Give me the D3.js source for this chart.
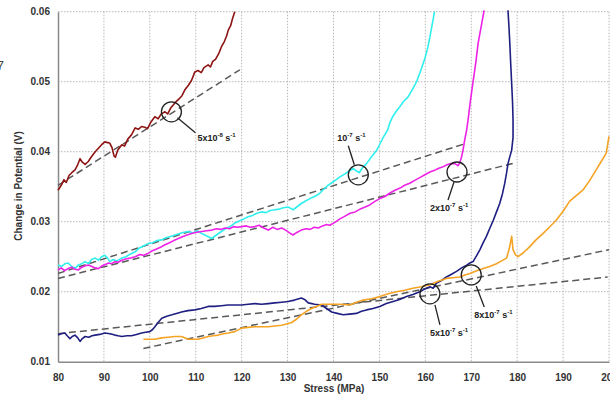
<!DOCTYPE html>
<html><head><meta charset="utf-8">
<script src="https://cdn.jsdelivr.net/npm/d3@7"></script>
<style>
html,body{margin:0;padding:0;background:#fff;}
svg{display:block;font-family:"Liberation Sans",Arial,sans-serif;}
</style></head><body>
<svg id="chart" width="610" height="398"></svg>
<script>
// ---------- DATA ----------
const xTicks = [80,90,100,110,120,130,140,150,160,170,180,190,200];
const yTicks = [0.01,0.02,0.03,0.04,0.05,0.06];
const xTitle = "Stress (MPa)";
const yTitle = "Change in Potential (V)";

const rate5e8 = [[80,.0345],[80.7,.0352],[81.3,.0360],[81.8,.0356],[82.4,.0366],[83,.0370],[83.7,.0374],[84.2,.0380],[84.8,.0390],[85.3,.0385],[85.9,.0382],[86.6,.0386],[87.2,.0392],[88.1,.0400],[88.8,.0405],[89.5,.0410],[90.2,.0414],[90.8,.0413],[91.3,.0412],[91.8,.0405],[92.2,.0394],[92.5,.0392],[93,.0402],[93.9,.0410],[94.5,.0408],[95.2,.0418],[96,.0424],[96.8,.0434],[97.5,.0432],[98.2,.0436],[98.9,.0435],[99.5,.0433],[100.2,.0442],[101.1,.0450],[101.8,.0447],[102.5,.0454],[103.3,.0457],[103.9,.0454],[104.5,.0462],[105.5,.0470],[106.3,.0475],[107,.0480],[107.6,.0488],[108.4,.0495],[109.1,.0502],[109.8,.0514],[110.5,.0516],[111.2,.0513],[111.8,.0520],[112.7,.0524],[113.2,.0521],[113.7,.0529],[114.3,.0532],[115,.0540],[115.6,.0550],[116.2,.0557],[116.7,.0565],[117.1,.0574],[117.6,.0580],[118,.0590],[118.5,.0600]];
const rate1e7 = [[80,.0238],[80.8,.0236],[81.5,.0240],[82.2,.0241],[83,.0236],[83.7,.0233],[84.4,.0238],[85.2,.0240],[85.9,.0243],[86.6,.0240],[87.3,.0246],[88.1,.0248],[88.8,.0245],[89.5,.0250],[90.2,.0252],[90.8,.0248],[91.3,.0243],[92,.0246],[92.8,.0244],[93.9,.0248],[94.8,.0250],[95.8,.0254],[96.8,.0257],[97.6,.0262],[98.5,.0265],[99.7,.0269],[100.6,.0270],[101.5,.0273],[102.6,.0274],[103.5,.0277],[104.5,.0279],[105.5,.0281],[106.5,.0283],[107.4,.0285],[108.4,.0286],[109.4,.0284],[110.3,.0287],[111.3,.0283],[112.3,.0280],[113.5,.0276],[114.5,.0281],[115.6,.0286],[116.5,.0290],[117.5,.0293],[118.5,.0298],[119.5,.0301],[120.5,.0304],[121.4,.0307],[122.4,.0309],[123.3,.0312],[124.3,.0314],[125.3,.0313],[126.2,.0316],[127.2,.0317],[128.2,.0318],[129.1,.0320],[130.1,.0321],[130.7,.0319],[131.2,.0317],[132,.0321],[133,.0326],[134,.0330],[134.9,.0333],[135.9,.0336],[136.9,.0340],[137.8,.0346],[138.8,.0352],[139.7,.0356],[140.6,.0360],[141.4,.0364],[142.4,.0368],[143.3,.0372],[144.3,.0376],[145.1,.0372],[145.6,.0370],[146.3,.0377],[147.2,.0383],[148.2,.0392],[149.4,.0402],[150.1,.0411],[150.8,.0420],[151.8,.0431],[152.3,.0442],[152.9,.0450],[153.6,.0457],[154.4,.0464],[155.3,.0472],[156.2,.0478],[157.2,.0489],[158.1,.0500],[159,.0516],[159.9,.0533],[160.5,.0548],[161,.0564],[161.5,.0582],[162,.0600]];
const rate2e7 = [[80,.0231],[80.7,.0234],[81.4,.0230],[82.2,.0233],[83,.0235],[83.7,.0232],[84.4,.0231],[85.2,.0235],[85.9,.0237],[86.6,.0238],[87.4,.0236],[88.1,.0234],[88.8,.0233],[89.6,.0237],[90.3,.0239],[91,.0241],[91.7,.0240],[92.4,.0243],[93.1,.0242],[93.9,.0245],[94.9,.0247],[95.8,.0248],[96.8,.0250],[97.8,.0253],[98.7,.0252],[99.7,.0255],[100.4,.0258],[101.1,.0260],[102.2,.0263],[103.3,.0267],[104.3,.0270],[105.2,.0273],[106.2,.0276],[107.2,.0279],[108.1,.0281],[109.1,.0283],[110.2,.0285],[111.3,.0286],[112.4,.0287],[113.5,.0288],[114.5,.0290],[115.4,.0289],[116.4,.0291],[117.4,.0290],[118.2,.0293],[119.1,.0292],[120,.0293],[121,.0294],[121.9,.0292],[122.9,.0293],[123.8,.0295],[124.8,.0291],[125.8,.0288],[126.8,.0292],[127.7,.0289],[128.7,.0291],[129.6,.0288],[130.4,.0284],[131.2,.0281],[132.1,.0285],[133,.0288],[134,.0290],[134.9,.0289],[135.8,.0292],[136.7,.0291],[137.6,.0294],[138.5,.0296],[139.2,.0295],[140.3,.0299],[141.4,.0304],[142.5,.0308],[143.6,.0312],[144.7,.0314],[145.8,.0318],[146.9,.0321],[147.9,.0324],[149,.0329],[150.1,.0333],[151.2,.0336],[152.3,.0341],[153.4,.0345],[154.5,.0348],[155.5,.0352],[156.6,.0355],[157.7,.0359],[158.8,.0363],[159.9,.0367],[161,.0371],[161.9,.0373],[162.8,.0376],[163.7,.0378],[164.6,.0381],[165.5,.0383],[166.4,.0383],[167.1,.0380],[167.5,.0384],[167.9,.0393],[168.2,.0402],[168.6,.0418],[169,.0431],[169.3,.0445],[169.8,.0472],[170.4,.0500],[171,.0528],[171.5,.0555],[172.2,.0580],[172.8,.0602]];
const rate5e7 = [[80,.0138],[80.7,.0140],[81.5,.0141],[82,.0137],[82.6,.0133],[83.1,.0136],[83.7,.0138],[84.3,.0134],[84.8,.0129],[85.3,.0133],[85.9,.0136],[86.7,.0135],[87.4,.0137],[88.1,.0138],[89.1,.0139],[90.2,.0141],[91.3,.0140],[92.4,.0138],[93.1,.0137],[93.9,.0136],[95,.0137],[96,.0137],[97.1,.0139],[98.2,.0141],[99.1,.0142],[100,.0143],[100.6,.0146],[101.1,.0150],[101.8,.0156],[102.6,.0162],[103.7,.0165],[104.8,.0167],[105.8,.0169],[106.9,.0171],[108.3,.0173],[109.8,.0174],[111.2,.0176],[112.7,.0179],[114.1,.0179],[115.6,.0180],[117,.0181],[118.5,.0181],[120,.0181],[121.4,.0182],[122.9,.0183],[124.3,.0182],[125.8,.0183],[127.2,.0184],[128.7,.0185],[130.1,.0186],[131.5,.0188],[133,.0191],[133.7,.0189],[134.5,.0184],[135.9,.0182],[137.4,.0181],[138.5,.0176],[139.6,.0171],[140.8,.0169],[142.1,.0167],[143.5,.0168],[145,.0169],[146.1,.0172],[147.2,.0174],[148.6,.0176],[150.1,.0179],[151.5,.0183],[153,.0186],[154.4,.0189],[155.9,.0193],[157.3,.0196],[158.8,.0200],[159.9,.0204],[161,.0207],[161.7,.0205],[162.4,.0212],[163.5,.0216],[164.6,.0221],[165.7,.0225],[166.8,.0229],[167.9,.0234],[169,.0238],[169.7,.0241],[170.4,.0243],[171.2,.0252],[171.9,.0260],[172.6,.0270],[173.3,.0279],[174,.0290],[174.8,.0302],[175.5,.0314],[176.2,.0326],[176.8,.0340],[177.3,.0355],[177.7,.0370],[178,.0383],[178.4,.0393],[178.8,.0402],[179.1,.0420],[179.1,.0445],[179,.0470],[178.8,.0498],[178.6,.0525],[178.4,.0555],[178.2,.0580],[178,.0602]];
const rate8e7 = [[98.6,.0132],[99.8,.0132],[101.1,.0132],[102.5,.0134],[104,.0135],[105.4,.0136],[106.9,.0136],[107.7,.0134],[108.4,.0132],[109.4,.0132],[110.5,.0132],[111.6,.0134],[112.7,.0136],[113.8,.0137],[114.9,.0138],[116,.0140],[117.1,.0141],[118.5,.0143],[120,.0148],[121.4,.0149],[122.9,.0150],[124.3,.0150],[125.8,.0150],[127.2,.0151],[128.7,.0152],[129.8,.0154],[130.9,.0156],[132,.0161],[133,.0167],[134.1,.0172],[135.2,.0176],[136.3,.0179],[137.4,.0182],[138.5,.0182],[139.6,.0182],[141.4,.0182],[143.6,.0181],[145,.0185],[146.5,.0188],[148.3,.0190],[150.1,.0193],[151.9,.0197],[153.7,.0200],[155.5,.0202],[157.3,.0205],[159.1,.0207],[161,.0210],[162.8,.0215],[164.6,.0219],[166,.0220],[167.5,.0221],[168.6,.0224],[169.7,.0226],[171.2,.0230],[172.6,.0233],[174,.0236],[175.5,.0240],[176.6,.0244],[177.7,.0248],[178.3,.0262],[178.8,.0279],[179.1,.0260],[179.6,.0253],[180.2,.0250],[181.4,.0256],[182.7,.0264],[184.1,.0274],[185.6,.0283],[187,.0292],[188.5,.0302],[190,.0315],[191.4,.0329],[192.8,.0337],[194.3,.0345],[195.7,.0358],[197.2,.0374],[198.3,.0386],[199.4,.0398],[200,.0422]];

// linear fits (dashed)
const fit5e8 = [[80,.0352],[119.6,.0517]];
const fit1e7 = [[80,.0226],[168.9,.0412]];
const fit2e7 = [[80,.0219],[179.5,.0384]];
const fit5e7 = [[80,.0140],[199.7,.0221]];
const fit8e7 = [[98.6,.0119],[200,.0260]];

// annotation labels: mantissa, exponent, circled point (stress, potential)
const annoText = ["5x10","10","2x10","5x10","8x10"];
const annoExp  = ["-8","-7","-7","-7","-7"];
const annoPt   = [[104.7,.0457],[145.4,.0367],[166.9,.0371],[161,.0197],[170,.0224]];

// ---------- STYLE / LAYOUT ----------
const colors = ["#8e1414","#2ff0ee","#ee22e6","#1f1f82","#f5a324"];
const series = [rate5e8, rate1e7, rate2e7, rate5e7, rate8e7];
const fits = [fit5e8, fit1e7, fit2e7, fit5e7, fit8e7];
// leader offsets (px) from circle centre: [x1,y1,x2,y2,textX,textY]
const annoLayout = [[6,6,24,21,26,29],[-4,-10,-10,-29,-21,-34],[-3,10,-9,28,-27,39],[5,11,10,31,0,42],[5,11,13,32,3,43]];

const svg = d3.select("#chart");
const x = d3.scaleLinear().domain([80,200]).range([58,609]);
const y = d3.scaleLinear().domain([0.01,0.06]).range([361.7,11.7]);
const textCol = "#333";

// grid
const grid = svg.append("g");
grid.selectAll("line.gx").data(xTicks.slice(1)).join("line")
  .attr("x1",d=>x(d)).attr("x2",d=>x(d)).attr("y1",y(0.06)).attr("y2",y(0.01))
  .attr("stroke","#b8b8b8").attr("stroke-width",1).attr("stroke-dasharray","1.5,1.5");
grid.selectAll("line.gy").data(yTicks.slice(1)).join("line")
  .attr("x1",x(80)).attr("x2",x(200)).attr("y1",d=>y(d)).attr("y2",d=>y(d))
  .attr("stroke","#b8b8b8").attr("stroke-width",1).attr("stroke-dasharray","1.5,1.5");

// axes
const xAxis = svg.append("g").attr("transform",`translate(0,${y(0.01)})`)
  .call(d3.axisBottom(x).tickValues(xTicks).tickSize(0).tickPadding(12).tickFormat(d3.format("d")));
const yAxis = svg.append("g").attr("transform",`translate(${x(80)},0)`)
  .call(d3.axisLeft(y).tickValues(yTicks).tickSize(0).tickPadding(8).tickFormat(d3.format(".2f")));
[xAxis,yAxis].forEach(a=>{
  a.select(".domain").attr("stroke","#8a8a8a").attr("stroke-width",1.5);
  a.selectAll("text").attr("fill",textCol).attr("font-size",10).attr("font-weight","bold")
   .attr("font-family","'Liberation Sans',Arial,sans-serif");
});

// titles
svg.append("text").attr("x",334).attr("y",392).attr("text-anchor","middle")
  .attr("font-size",10).attr("font-weight","bold").attr("fill",textCol).text(xTitle);
svg.append("text").attr("transform","translate(22,186) rotate(-90)").attr("text-anchor","middle")
  .attr("font-size",10).attr("font-weight","bold").attr("fill",textCol).text(yTitle);
svg.append("text").attr("x",4).attr("y",70).attr("text-anchor","end")
  .attr("font-size",13).attr("fill","#444").text("7");

// fits
const line = d3.line().x(d=>x(d[0])).y(d=>y(d[1]));
svg.append("g").selectAll("path").data(fits).join("path")
  .attr("d",line).attr("fill","none").attr("stroke","#595959")
  .attr("stroke-width",1.5).attr("stroke-dasharray","7,4");

// series
svg.append("g").selectAll("path").data(series).join("path")
  .attr("d",line).attr("fill","none").attr("stroke",(d,i)=>colors[i])
  .attr("stroke-width",1.6).attr("stroke-linejoin","round");

// annotations
const ag = svg.append("g");
annoPt.forEach((p,i)=>{
  const cx = x(p[0]), cy = y(p[1]); const L = annoLayout[i];
  ag.append("circle").attr("cx",cx).attr("cy",cy).attr("r",10)
    .attr("fill","none").attr("stroke","#222").attr("stroke-width",1.3);
  ag.append("line").attr("x1",cx+L[0]).attr("y1",cy+L[1]).attr("x2",cx+L[2]).attr("y2",cy+L[3])
    .attr("stroke","#222").attr("stroke-width",1.3);
  const t = ag.append("text").attr("x",cx+L[4]).attr("y",cy+L[5])
    .attr("font-size",9).attr("font-weight","bold").attr("fill","#222");
  t.append("tspan").text(annoText[i]);
  t.append("tspan").attr("dy",-4).attr("font-size",6).text(annoExp[i]);
  t.append("tspan").attr("dy",4).text(" s");
  t.append("tspan").attr("dy",-4).attr("font-size",6).text("-1");
});
</script>
</body></html>
